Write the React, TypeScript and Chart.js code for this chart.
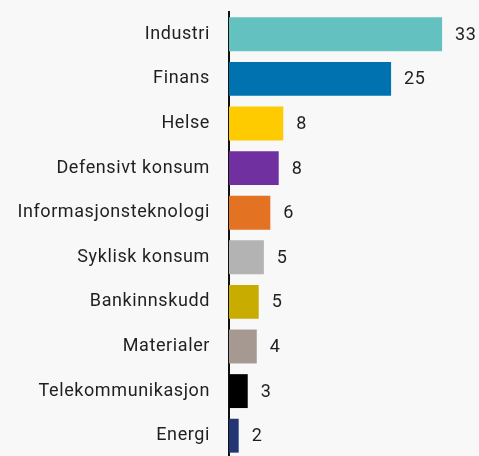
import React, { useEffect, useRef } from "react";
import { Chart, registerables } from "chart.js";

Chart.register(...registerables);

const categories = [
  "Industri",
  "Finans",
  "Helse",
  "Defensivt konsum",
  "Informasjonsteknologi",
  "Syklisk konsum",
  "Bankinnskudd",
  "Materialer",
  "Telekommunikasjon",
  "Energi",
];
const values = [33, 25.1, 8.4, 7.7, 6.4, 5.4, 4.6, 4.3, 2.9, 1.5];
const valueLabels = ["33", "25", "8", "8", "6", "5", "5", "4", "3", "2"];
const colors = [
  "#63c2c0",
  "#0072b0",
  "#fdcb00",
  "#7030a0",
  "#e37222",
  "#b3b3b3",
  "#c8ad00",
  "#a59992",
  "#000000",
  "#233572",
];

const FONT = "Roboto, 'Noto Sans', sans-serif";
const FONT_SIZE = 18;

const spacingPlugin = {
  id: "letterSpacing",
  beforeDraw(chart: any) {
    chart.ctx.letterSpacing = "0.6px";
  },
};

const valueLabelPlugin = {
  id: "valueLabels",
  afterDatasetsDraw(chart: any) {
    const { ctx } = chart;
    const meta = chart.getDatasetMeta(0);
    ctx.save();
    ctx.font = `${FONT_SIZE}px ${FONT}`;
    ctx.fillStyle = "#1f1f1f";
    ctx.textAlign = "left";
    ctx.textBaseline = "middle";
    meta.data.forEach((bar: any, i: number) => {
      ctx.fillText(valueLabels[i], bar.x + 13, bar.y + 1);
    });
    ctx.restore();
  },
};

export default function App() {
  const ref = useRef<HTMLCanvasElement>(null);
  useEffect(() => {
    if (!ref.current) return;
    const chart = new Chart(ref.current, {
      type: "bar",
      data: {
        labels: categories,
        datasets: [
          {
            data: values,
            backgroundColor: colors,
            borderWidth: 0,
            barPercentage: 0.76,
            categoryPercentage: 1,
          },
        ],
      },
      options: {
        indexAxis: "y",
        animation: false,
        responsive: false,
        maintainAspectRatio: false,
        layout: { padding: { top: 12, bottom: 0, left: 0, right: 24 } },
        plugins: {
          legend: { display: false },
          tooltip: { enabled: false },
        },
        scales: {
          x: {
            display: false,
            min: 0,
            max: 35,
          },
          y: {
            grid: { display: false, drawTicks: false },
            border: { display: true, color: "#111111", width: 2 },
            ticks: {
              color: "#1f1f1f",
              padding: 19,
              font: { family: FONT, size: FONT_SIZE },
            },
            afterFit: (scale: any) => {
              scale.width = 229;
              scale.paddingTop = 0;
              scale.paddingBottom = 0;
            },
          },
        },
      },
      plugins: [spacingPlugin, valueLabelPlugin],
    });
    return () => chart.destroy();
  }, []);
  return (
    <div
      style={{
        position: "fixed",
        left: 0,
        top: 0,
        width: 479,
        height: 456,
        overflow: "hidden",
        background: "#f8f8f8",
      }}
    >
      <canvas ref={ref} width={479} height={458} style={{ display: "block" }} />
    </div>
  );
}
